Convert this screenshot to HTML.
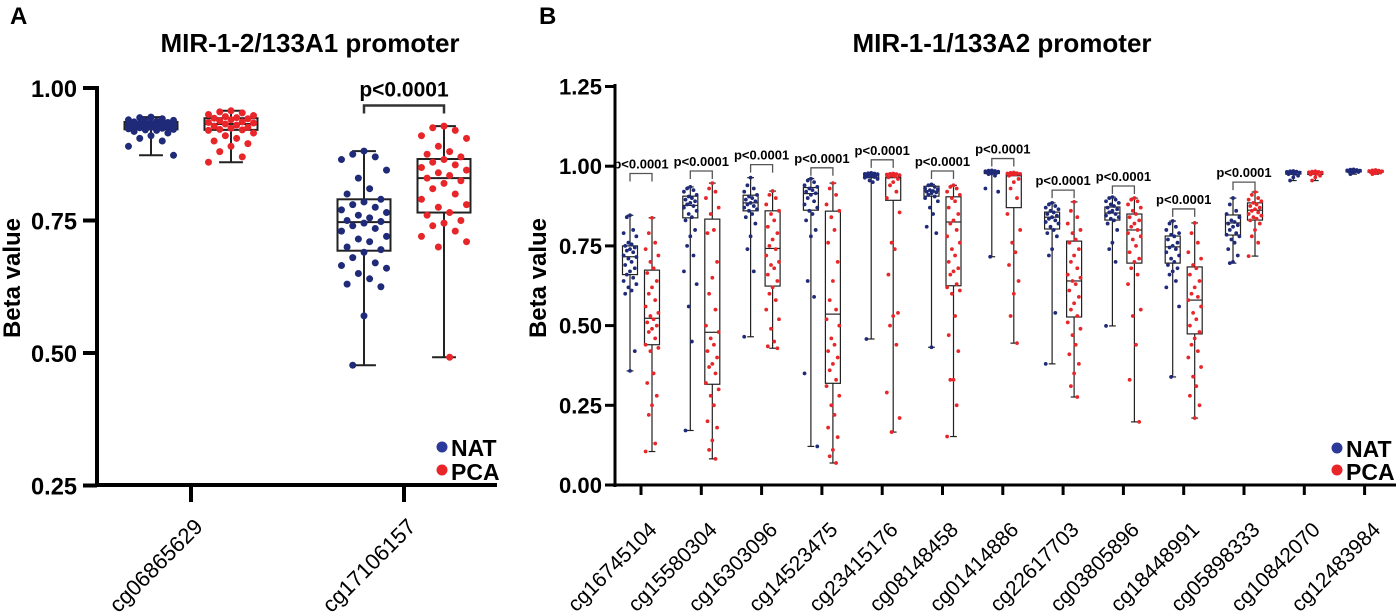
<!DOCTYPE html>
<html><head><meta charset="utf-8"><style>
html,body{margin:0;padding:0;background:#fff;}
svg{display:block;font-family:"Liberation Sans",Arial,sans-serif;}
</style></head><body>
<svg id="chart" width="1396" height="612" viewBox="0 0 1396 612" xmlns="http://www.w3.org/2000/svg">
<g id="gA"></g>
<g id="gB"></g>
</svg>
<script>
// ---------- Panel A data ----------
const catsA = ["cg06865629","cg17106157"];
const natPtsA = [
 [0.945,0.944,0.942,0.94,0.939,0.938,0.937,0.936,0.935,0.934,0.933,0.932,0.931,0.93,0.93,0.929,0.928,0.927,0.926,0.925,0.924,0.923,0.922,0.921,0.92,0.918,0.915,0.91,0.905,0.9,0.89,0.873],
 [0.881,0.875,0.87,0.865,0.845,0.83,0.81,0.80,0.79,0.785,0.78,0.775,0.77,0.765,0.76,0.755,0.75,0.748,0.745,0.74,0.735,0.73,0.72,0.715,0.71,0.70,0.695,0.69,0.68,0.67,0.665,0.66,0.65,0.64,0.63,0.625,0.57,0.477]
];
const pcaPtsA = [
 [0.957,0.955,0.953,0.95,0.948,0.946,0.944,0.943,0.942,0.94,0.938,0.936,0.935,0.934,0.932,0.93,0.928,0.926,0.924,0.922,0.921,0.92,0.915,0.91,0.905,0.9,0.895,0.89,0.88,0.87,0.86],
 [0.928,0.925,0.92,0.91,0.905,0.89,0.88,0.875,0.87,0.865,0.86,0.855,0.85,0.845,0.84,0.835,0.83,0.825,0.82,0.81,0.80,0.79,0.78,0.775,0.765,0.76,0.75,0.745,0.74,0.73,0.72,0.71,0.70,0.492]
];
const natQ1A=[0.922,0.693], natMedA=[0.93,0.747], natQ3A=[0.936,0.79];
const pcaQ1A=[0.921,0.765], pcaMedA=[0.932,0.83], pcaQ3A=[0.943,0.866];
const ticksA=[0.25,0.50,0.75,1.00];
const sigA=[false,true];

// ---------- Panel B data ----------
const catsB=["cg16745104","cg15580304","cg16303096","cg14523475","cg23415176","cg08148458","cg01414886","cg22617703","cg03805896","cg18448991","cg05898333","cg10842070","cg12483984"];
const natPtsB=[
 [0.846,0.84,0.80,0.79,0.78,0.76,0.755,0.75,0.745,0.74,0.735,0.73,0.72,0.715,0.71,0.70,0.69,0.68,0.67,0.66,0.65,0.64,0.63,0.62,0.61,0.60,0.42,0.358],
 [0.935,0.93,0.925,0.92,0.91,0.905,0.90,0.895,0.89,0.885,0.88,0.875,0.87,0.86,0.85,0.84,0.83,0.80,0.78,0.75,0.72,0.67,0.63,0.56,0.45,0.171],
 [0.964,0.94,0.93,0.92,0.91,0.905,0.90,0.895,0.89,0.885,0.88,0.875,0.87,0.865,0.86,0.85,0.84,0.82,0.78,0.74,0.67,0.465],
 [0.961,0.955,0.95,0.94,0.935,0.93,0.925,0.92,0.915,0.91,0.90,0.89,0.88,0.87,0.86,0.85,0.83,0.80,0.78,0.64,0.59,0.35,0.121],
 [0.979,0.978,0.977,0.976,0.975,0.974,0.973,0.972,0.971,0.97,0.968,0.966,0.964,0.96,0.955,0.95,0.458],
 [0.943,0.94,0.935,0.93,0.928,0.925,0.922,0.92,0.918,0.915,0.91,0.905,0.90,0.89,0.87,0.85,0.81,0.79,0.432],
 [0.987,0.986,0.985,0.984,0.983,0.982,0.981,0.98,0.979,0.977,0.975,0.97,0.93,0.92,0.716],
 [0.885,0.88,0.875,0.87,0.865,0.86,0.855,0.85,0.845,0.84,0.835,0.83,0.825,0.82,0.81,0.80,0.79,0.78,0.74,0.72,0.54,0.38],
 [0.903,0.90,0.895,0.89,0.885,0.88,0.875,0.87,0.865,0.86,0.855,0.85,0.845,0.84,0.835,0.83,0.82,0.80,0.76,0.74,0.70,0.499],
 [0.828,0.82,0.81,0.80,0.79,0.785,0.78,0.77,0.76,0.75,0.745,0.74,0.73,0.72,0.71,0.70,0.69,0.68,0.67,0.66,0.64,0.62,0.56,0.339],
 [0.90,0.88,0.86,0.85,0.84,0.83,0.825,0.82,0.815,0.81,0.80,0.79,0.785,0.78,0.77,0.76,0.74,0.72,0.70,0.696],
 [0.985,0.984,0.983,0.982,0.98,0.978,0.976,0.975,0.97,0.965,0.955],
 [0.99,0.989,0.988,0.987,0.986,0.985,0.984,0.983,0.982,0.98,0.975]
];
const pcaPtsB=[
 [0.838,0.79,0.76,0.74,0.72,0.70,0.68,0.665,0.64,0.62,0.60,0.58,0.56,0.54,0.53,0.52,0.51,0.50,0.49,0.48,0.46,0.44,0.43,0.42,0.35,0.32,0.28,0.25,0.22,0.13,0.105],
 [0.947,0.93,0.92,0.90,0.87,0.85,0.80,0.79,0.70,0.65,0.60,0.55,0.50,0.48,0.46,0.44,0.42,0.40,0.38,0.37,0.35,0.32,0.30,0.28,0.25,0.20,0.18,0.14,0.11,0.082],
 [0.922,0.91,0.90,0.88,0.86,0.85,0.83,0.81,0.79,0.77,0.75,0.74,0.72,0.70,0.69,0.68,0.66,0.64,0.62,0.60,0.58,0.55,0.52,0.49,0.45,0.435,0.429],
 [0.947,0.93,0.91,0.88,0.86,0.84,0.80,0.76,0.70,0.64,0.58,0.55,0.52,0.50,0.46,0.44,0.42,0.40,0.38,0.36,0.33,0.31,0.28,0.25,0.22,0.18,0.15,0.11,0.09,0.069],
 [0.977,0.976,0.975,0.974,0.972,0.97,0.968,0.965,0.96,0.95,0.94,0.92,0.90,0.855,0.76,0.74,0.66,0.54,0.53,0.50,0.44,0.29,0.21,0.166],
 [0.94,0.935,0.93,0.92,0.91,0.90,0.89,0.87,0.85,0.83,0.82,0.80,0.78,0.76,0.74,0.72,0.70,0.68,0.67,0.66,0.63,0.62,0.61,0.60,0.53,0.47,0.42,0.33,0.33,0.25,0.152],
 [0.98,0.979,0.978,0.977,0.976,0.975,0.974,0.97,0.96,0.95,0.93,0.90,0.85,0.80,0.76,0.73,0.69,0.64,0.60,0.53,0.445],
 [0.888,0.86,0.84,0.82,0.80,0.79,0.77,0.76,0.74,0.72,0.70,0.68,0.66,0.65,0.64,0.63,0.61,0.59,0.57,0.55,0.53,0.51,0.49,0.47,0.44,0.41,0.38,0.35,0.31,0.276],
 [0.90,0.895,0.89,0.88,0.87,0.86,0.85,0.84,0.83,0.82,0.81,0.80,0.79,0.78,0.77,0.75,0.73,0.71,0.70,0.68,0.66,0.63,0.55,0.53,0.44,0.33,0.198],
 [0.822,0.79,0.76,0.73,0.71,0.69,0.68,0.66,0.64,0.62,0.60,0.59,0.58,0.56,0.54,0.52,0.50,0.48,0.46,0.44,0.42,0.40,0.37,0.34,0.31,0.28,0.25,0.21],
 [0.919,0.91,0.90,0.895,0.89,0.885,0.88,0.875,0.87,0.865,0.86,0.855,0.85,0.845,0.84,0.835,0.83,0.82,0.80,0.78,0.76,0.718],
 [0.984,0.983,0.982,0.981,0.98,0.978,0.976,0.974,0.97,0.965,0.955],
 [0.988,0.987,0.986,0.985,0.984,0.983,0.982,0.981,0.98,0.978,0.975]
];
const natQ1B=[0.66,0.838,0.86,0.862,0.964,0.906,0.977,0.803,0.831,0.696,0.784,0.975,0.982];
const natMedB=[0.716,0.877,0.885,0.914,0.971,0.922,0.981,0.84,0.853,0.747,0.822,0.98,0.985];
const natQ3B=[0.75,0.906,0.909,0.933,0.975,0.937,0.984,0.856,0.872,0.781,0.847,0.983,0.988];
const pcaQ1B=[0.44,0.316,0.624,0.319,0.893,0.625,0.87,0.527,0.696,0.474,0.831,0.974,0.981];
const pcaMedB=[0.523,0.479,0.742,0.536,0.964,0.825,0.97,0.64,0.80,0.58,0.862,0.979,0.984];
const pcaQ3B=[0.674,0.834,0.86,0.859,0.966,0.904,0.975,0.765,0.85,0.684,0.885,0.982,0.986];
const bracketB=[0.977,0.985,1.005,0.995,1.02,0.985,1.024,0.925,0.938,0.866,0.95,null,null];
const ticksB=[0.00,0.25,0.50,0.75,1.00,1.25];

const NS="http://www.w3.org/2000/svg";
const NAVY="#1f2a78", RED="#e8262a";
function mk(tag,attrs,parent,text){const e=document.createElementNS(NS,tag);for(const k in attrs)e.setAttribute(k,attrs[k]);if(text!==undefined)e.textContent=text;parent.appendChild(e);return e;}

// ---------- Panel A ----------
const gA=document.getElementById('gA');
const yA=v=>88+(1-v)*530;
const xCatA=i=>191+i*213;
function drawBox(g,cx,hw,pts,q1,med,q3,col,y,r,lw,name){
  const grp=mk('g',{},g);
  
  
  const mn=Math.min(...pts),mx=Math.max(...pts);
  mk('line',{x1:cx,x2:cx,y1:y(mx),y2:y(q3),stroke:'#222','stroke-width':lw},grp);
  mk('line',{x1:cx,x2:cx,y1:y(q1),y2:y(mn),stroke:'#222','stroke-width':lw},grp);
  mk('line',{x1:cx-hw*0.45,x2:cx+hw*0.45,y1:y(mx),y2:y(mx),stroke:'#222','stroke-width':lw},grp);
  mk('line',{x1:cx-hw*0.45,x2:cx+hw*0.45,y1:y(mn),y2:y(mn),stroke:'#222','stroke-width':lw},grp);
  mk('rect',{x:cx-hw,y:y(q3),width:hw*2,height:Math.max(1,y(q1)-y(q3)),fill:'none',stroke:'#222','stroke-width':lw},grp);
  mk('line',{x1:cx-hw,x2:cx+hw,y1:y(med),y2:y(med),stroke:'#222','stroke-width':lw},grp);
  const pat=[0,-0.5,0.5,-1,1,-0.25,0.25,-0.75,0.75];
  pts.forEach((v,i)=>{
    const d=pat[i%pat.length]*hw*0.85;
    const c=mk('circle',{cx:cx+d,cy:y(v),r:r,fill:col},grp);
    
    
  });
}
mk('line',{x1:97,x2:97,y1:86,y2:487,stroke:'#000','stroke-width':4},gA);
mk('line',{x1:95,x2:497,y1:485,y2:485,stroke:'#000','stroke-width':4},gA);
ticksA.forEach(t=>{
  mk('line',{x1:83,x2:97,y1:yA(t),y2:yA(t),stroke:'#000','stroke-width':4},gA);
  const tl=mk('text',{x:77,y:yA(t)+9,'text-anchor':'end','font-size':24,'font-weight':'bold',textLength:46,lengthAdjust:'spacingAndGlyphs'},gA,t.toFixed(2));
  
  
});
catsA.forEach((c,i)=>{
  const x=xCatA(i);
  mk('line',{x1:x,x2:x,y1:485,y2:502,stroke:'#000','stroke-width':4},gA);
  const t=mk('text',{x:x+13,y:528,'text-anchor':'end','font-size':22,transform:`rotate(-45 ${x+13} 528)`},gA,c);
  
  
  drawBox(gA,x-40,26.5,natPtsA[i],natQ1A[i],natMedA[i],natQ3A[i],NAVY,yA,3.5,2,'box-nat-'+c);
  drawBox(gA,x+40,26.5,pcaPtsA[i],pcaQ1A[i],pcaMedA[i],pcaQ3A[i],RED,yA,3.5,2,'box-pca-'+c);
  if(sigA[i]){
    const by=yA(0.967);
    mk('path',{d:`M${x-40} ${by+8}V${by}H${x+40}V${by+8}`,fill:'none',stroke:'#333','stroke-width':2.5},gA);
    const p=mk('text',{x:x,y:by-9,'text-anchor':'middle','font-size':21,'font-weight':'bold'},gA,'p<0.0001');
    
    
  }
});
mk('text',{x:10,y:24,'font-size':24,'font-weight':'bold'},gA,'A');
mk('text',{x:310,y:52,'text-anchor':'middle','font-size':26,'font-weight':'bold'},gA,'MIR-1-2/133A1 promoter');
mk('text',{x:0,y:0,'text-anchor':'middle','font-size':24,'font-weight':'bold',transform:'translate(20 278) rotate(-90)'},gA,'Beta value');
mk('circle',{cx:442,cy:447,r:5.5,fill:'#2b3a9a'},gA);
mk('circle',{cx:442,cy:470,r:5.5,fill:RED},gA);
mk('text',{x:451,y:456,'font-size':23,'font-weight':'bold'},gA,'NAT');
mk('text',{x:451,y:480,'font-size':23,'font-weight':'bold'},gA,'PCA');

// ---------- Panel B ----------
const gB=document.getElementById('gB');
const yB=v=>485-v*318.8;
const xCatB=i=>641+i*60.3;
mk('line',{x1:615,x2:615,y1:84,y2:487,stroke:'#000','stroke-width':3},gB);
mk('line',{x1:613,x2:1396,y1:485,y2:485,stroke:'#000','stroke-width':3},gB);
ticksB.forEach(t=>{
  mk('line',{x1:605,x2:615,y1:yB(t),y2:yB(t),stroke:'#000','stroke-width':3},gB);
  const tl=mk('text',{x:602,y:yB(t)+8,'text-anchor':'end','font-size':22,'font-weight':'bold',textLength:43,lengthAdjust:'spacingAndGlyphs'},gB,t.toFixed(2));
  
  
});
catsB.forEach((c,i)=>{
  const x=xCatB(i);
  mk('line',{x1:x,x2:x,y1:485,y2:495,stroke:'#000','stroke-width':3},gB);
  const t=mk('text',{x:x+17,y:531,'text-anchor':'end','font-size':21,transform:`rotate(-45 ${x+17} 531)`},gB,c);
  
  
  drawBox(gB,x-11,7.5,natPtsB[i],natQ1B[i],natMedB[i],natQ3B[i],NAVY,yB,1.9,1.2,'box-nat-'+c);
  drawBox(gB,x+11,7.5,pcaPtsB[i],pcaQ1B[i],pcaMedB[i],pcaQ3B[i],RED,yB,1.9,1.2,'box-pca-'+c);
  if(bracketB[i]!==null){
    const by=yB(bracketB[i]);
    mk('path',{d:`M${x-11} ${by+8}V${by}H${x+11}V${by+8}`,fill:'none',stroke:'#555','stroke-width':1.3},gB);
    const p=mk('text',{x:x,y:by-5,'text-anchor':'middle','font-size':13,'font-weight':'bold'},gB,'p<0.0001');
    
    
  }
});
mk('text',{x:539,y:24,'font-size':24,'font-weight':'bold'},gB,'B');
mk('text',{x:1002,y:52,'text-anchor':'middle','font-size':26,'font-weight':'bold'},gB,'MIR-1-1/133A2 promoter');
mk('text',{x:0,y:0,'text-anchor':'middle','font-size':24,'font-weight':'bold',transform:'translate(546 278) rotate(-90)'},gB,'Beta value');
mk('circle',{cx:1337,cy:448,r:5.5,fill:'#2b3a9a'},gB);
mk('circle',{cx:1337,cy:470,r:5.5,fill:RED},gB);
mk('text',{x:1346,y:457,'font-size':23,'font-weight':'bold'},gB,'NAT');
mk('text',{x:1346,y:480,'font-size':23,'font-weight':'bold'},gB,'PCA');
</script>
</body></html>
